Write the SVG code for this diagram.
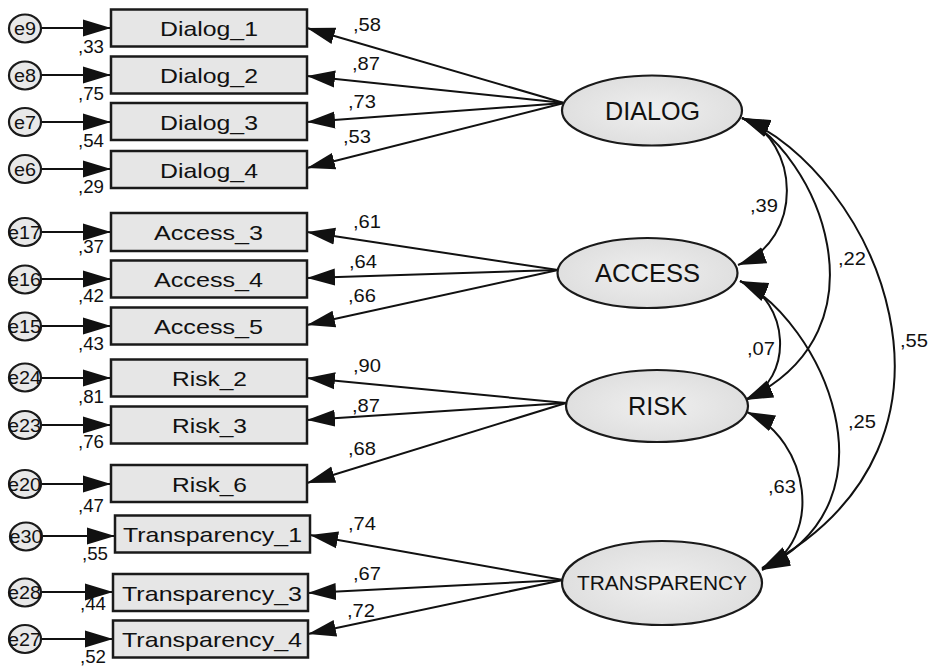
<svg xmlns="http://www.w3.org/2000/svg" width="929" height="669" viewBox="0 0 929 669">
<style>
text{font-family:"Liberation Sans",Arial,sans-serif;fill:#111;}
.box{fill:#e6e6e6;stroke:#1a1a1a;stroke-width:2.5;}
.err{fill:#e8e8e8;stroke:#1a1a1a;stroke-width:2.2;}
.lat{fill:url(#lg);stroke:#1a1a1a;stroke-width:2.2;}
.lbl{font-size:21px;}
.en{font-size:18px;}
.num{font-size:19px;}
.ln{font-size:25px;}
.c line,.c path{stroke:#111;stroke-width:2;fill:none;}
</style>
<defs>
<radialGradient id="lg" cx="0.5" cy="0.5" r="0.6">
<stop offset="0" stop-color="#efefef"/>
<stop offset="1" stop-color="#dcdcdc"/>
</radialGradient>
<marker id="ah" viewBox="0 0 28 18" markerUnits="userSpaceOnUse" markerWidth="28" markerHeight="18" refX="28" refY="9" orient="auto-start-reverse">
<path d="M0,0.5 L28,9 L0,17.5 z" fill="#111"/>
</marker>
</defs>
<rect width="929" height="669" fill="#fff"/>

<g id="connectors" class="c">
<line x1="41" y1="28" x2="111" y2="28" marker-end="url(#ah)"/>
<line x1="41" y1="75" x2="111" y2="75" marker-end="url(#ah)"/>
<line x1="41" y1="122" x2="111" y2="122" marker-end="url(#ah)"/>
<line x1="41" y1="169" x2="111" y2="169" marker-end="url(#ah)"/>
<line x1="41" y1="232" x2="111" y2="232" marker-end="url(#ah)"/>
<line x1="41" y1="279" x2="111" y2="279" marker-end="url(#ah)"/>
<line x1="41" y1="326" x2="111" y2="326" marker-end="url(#ah)"/>
<line x1="41" y1="378" x2="111" y2="378" marker-end="url(#ah)"/>
<line x1="41" y1="425" x2="111" y2="425" marker-end="url(#ah)"/>
<line x1="41" y1="484" x2="111" y2="484" marker-end="url(#ah)"/>
<line x1="42" y1="536" x2="115" y2="536" marker-end="url(#ah)"/>
<line x1="41" y1="592" x2="113" y2="592" marker-end="url(#ah)"/>
<line x1="41" y1="639" x2="113" y2="639" marker-end="url(#ah)"/>
<line x1="564" y1="103" x2="307" y2="28" marker-end="url(#ah)"/>
<line x1="564" y1="103" x2="307" y2="76" marker-end="url(#ah)"/>
<line x1="564" y1="103" x2="307" y2="122" marker-end="url(#ah)"/>
<line x1="564" y1="103" x2="307" y2="168" marker-end="url(#ah)"/>
<line x1="558" y1="270" x2="307" y2="232" marker-end="url(#ah)"/>
<line x1="558" y1="270" x2="307" y2="278" marker-end="url(#ah)"/>
<line x1="558" y1="270" x2="307" y2="325" marker-end="url(#ah)"/>
<line x1="566" y1="403" x2="307" y2="378" marker-end="url(#ah)"/>
<line x1="566" y1="403" x2="307" y2="420" marker-end="url(#ah)"/>
<line x1="566" y1="403" x2="307" y2="483" marker-end="url(#ah)"/>
<line x1="563" y1="580" x2="310" y2="535" marker-end="url(#ah)"/>
<line x1="563" y1="580" x2="308" y2="593" marker-end="url(#ah)"/>
<line x1="563" y1="580" x2="308" y2="634" marker-end="url(#ah)"/>
<path d="M742,118 C800,140 805,240 738,265" marker-start="url(#ah)" marker-end="url(#ah)"/>
<path d="M742,118 C815,150 895,330 745,400" marker-start="url(#ah)" marker-end="url(#ah)"/>
<path d="M742,118 C870,170 1000,440 762,568" marker-start="url(#ah)" marker-end="url(#ah)"/>
<path d="M740,281 C790,300 795,380 745,400" marker-start="url(#ah)" marker-end="url(#ah)"/>
<path d="M740,281 C820,320 905,500 762,569" marker-start="url(#ah)" marker-end="url(#ah)"/>
<path d="M747,412 C810,440 825,540 762,570" marker-start="url(#ah)" marker-end="url(#ah)"/>
</g>

<g id="labels-connectors">
<text class="num" x="353" y="31" textLength="28" lengthAdjust="spacingAndGlyphs">,58</text>
<text class="num" x="352" y="70" textLength="28" lengthAdjust="spacingAndGlyphs">,87</text>
<text class="num" x="348" y="108" textLength="28" lengthAdjust="spacingAndGlyphs">,73</text>
<text class="num" x="343" y="143" textLength="28" lengthAdjust="spacingAndGlyphs">,53</text>
<text class="num" x="353" y="228" textLength="28" lengthAdjust="spacingAndGlyphs">,61</text>
<text class="num" x="349" y="268" textLength="28" lengthAdjust="spacingAndGlyphs">,64</text>
<text class="num" x="348" y="302" textLength="28" lengthAdjust="spacingAndGlyphs">,66</text>
<text class="num" x="353" y="372" textLength="28" lengthAdjust="spacingAndGlyphs">,90</text>
<text class="num" x="352" y="412" textLength="28" lengthAdjust="spacingAndGlyphs">,87</text>
<text class="num" x="348" y="455" textLength="28" lengthAdjust="spacingAndGlyphs">,68</text>
<text class="num" x="348" y="530" textLength="28" lengthAdjust="spacingAndGlyphs">,74</text>
<text class="num" x="353" y="580" textLength="28" lengthAdjust="spacingAndGlyphs">,67</text>
<text class="num" x="347" y="617" textLength="28" lengthAdjust="spacingAndGlyphs">,72</text>
<text class="num" x="750" y="212" textLength="28" lengthAdjust="spacingAndGlyphs">,39</text>
<text class="num" x="838" y="265" textLength="28" lengthAdjust="spacingAndGlyphs">,22</text>
<text class="num" x="747" y="355" textLength="28" lengthAdjust="spacingAndGlyphs">,07</text>
<text class="num" x="900" y="347" textLength="28" lengthAdjust="spacingAndGlyphs">,55</text>
<text class="num" x="848" y="428" textLength="28" lengthAdjust="spacingAndGlyphs">,25</text>
<text class="num" x="768" y="493" textLength="28" lengthAdjust="spacingAndGlyphs">,63</text>
</g>

<g id="e9"><ellipse class="err" cx="25" cy="28.5" rx="16" ry="14"/><text class="en" x="14" y="35" textLength="22" lengthAdjust="spacingAndGlyphs">e9</text></g>
<g id="e8"><ellipse class="err" cx="25" cy="75.5" rx="16" ry="14"/><text class="en" x="14" y="82" textLength="22" lengthAdjust="spacingAndGlyphs">e8</text></g>
<g id="e7"><ellipse class="err" cx="25" cy="122" rx="16" ry="14"/><text class="en" x="14" y="128.5" textLength="22" lengthAdjust="spacingAndGlyphs">e7</text></g>
<g id="e6"><ellipse class="err" cx="25" cy="169" rx="16" ry="14"/><text class="en" x="14" y="175.5" textLength="22" lengthAdjust="spacingAndGlyphs">e6</text></g>
<g id="e17"><ellipse class="err" cx="25" cy="232" rx="16" ry="14"/><text class="en" x="8" y="238.5" textLength="33" lengthAdjust="spacingAndGlyphs">e17</text></g>
<g id="e16"><ellipse class="err" cx="25" cy="279.5" rx="16" ry="14"/><text class="en" x="8" y="286" textLength="33" lengthAdjust="spacingAndGlyphs">e16</text></g>
<g id="e15"><ellipse class="err" cx="25" cy="326.5" rx="16" ry="14"/><text class="en" x="8" y="333" textLength="33" lengthAdjust="spacingAndGlyphs">e15</text></g>
<g id="e24"><ellipse class="err" cx="25" cy="377.5" rx="16" ry="14"/><text class="en" x="8" y="384" textLength="33" lengthAdjust="spacingAndGlyphs">e24</text></g>
<g id="e23"><ellipse class="err" cx="25" cy="425" rx="16" ry="14"/><text class="en" x="8" y="431.5" textLength="33" lengthAdjust="spacingAndGlyphs">e23</text></g>
<g id="e20"><ellipse class="err" cx="25" cy="484" rx="16" ry="14"/><text class="en" x="8" y="490.5" textLength="33" lengthAdjust="spacingAndGlyphs">e20</text></g>
<g id="e30"><ellipse class="err" cx="26" cy="536.5" rx="16" ry="14"/><text class="en" x="9.5" y="543" textLength="33" lengthAdjust="spacingAndGlyphs">e30</text></g>
<g id="e28"><ellipse class="err" cx="25" cy="592.5" rx="16" ry="14"/><text class="en" x="8" y="599" textLength="33" lengthAdjust="spacingAndGlyphs">e28</text></g>
<g id="e27"><ellipse class="err" cx="25" cy="639" rx="16" ry="14"/><text class="en" x="8" y="645.5" textLength="33" lengthAdjust="spacingAndGlyphs">e27</text></g>

<g id="error-values">
<text class="en" x="78" y="53" textLength="26" lengthAdjust="spacingAndGlyphs">,33</text>
<text class="en" x="78" y="100" textLength="26" lengthAdjust="spacingAndGlyphs">,75</text>
<text class="en" x="78" y="147" textLength="26" lengthAdjust="spacingAndGlyphs">,54</text>
<text class="en" x="78" y="193" textLength="26" lengthAdjust="spacingAndGlyphs">,29</text>
<text class="en" x="78" y="253" textLength="26" lengthAdjust="spacingAndGlyphs">,37</text>
<text class="en" x="78" y="302" textLength="26" lengthAdjust="spacingAndGlyphs">,42</text>
<text class="en" x="78" y="350" textLength="26" lengthAdjust="spacingAndGlyphs">,43</text>
<text class="en" x="78" y="403" textLength="26" lengthAdjust="spacingAndGlyphs">,81</text>
<text class="en" x="78" y="448" textLength="26" lengthAdjust="spacingAndGlyphs">,76</text>
<text class="en" x="78" y="512" textLength="26" lengthAdjust="spacingAndGlyphs">,47</text>
<text class="en" x="82" y="560" textLength="26" lengthAdjust="spacingAndGlyphs">,55</text>
<text class="en" x="80" y="610" textLength="26" lengthAdjust="spacingAndGlyphs">,44</text>
<text class="en" x="80" y="663" textLength="26" lengthAdjust="spacingAndGlyphs">,52</text>
</g>

<g id="Dialog_1"><rect class="box" x="111" y="9.5" width="196" height="37"/><text class="lbl" x="160" y="36" textLength="98" lengthAdjust="spacingAndGlyphs">Dialog_1</text></g>
<g id="Dialog_2"><rect class="box" x="111" y="56.5" width="196" height="37"/><text class="lbl" x="160" y="83" textLength="98" lengthAdjust="spacingAndGlyphs">Dialog_2</text></g>
<g id="Dialog_3"><rect class="box" x="111" y="103" width="196" height="37"/><text class="lbl" x="160" y="129.5" textLength="98" lengthAdjust="spacingAndGlyphs">Dialog_3</text></g>
<g id="Dialog_4"><rect class="box" x="111" y="151" width="196" height="37"/><text class="lbl" x="160" y="177.5" textLength="98" lengthAdjust="spacingAndGlyphs">Dialog_4</text></g>
<g id="Access_3"><rect class="box" x="111" y="213" width="196" height="38"/><text class="lbl" x="154" y="240" textLength="109" lengthAdjust="spacingAndGlyphs">Access_3</text></g>
<g id="Access_4"><rect class="box" x="111" y="260.5" width="196" height="37"/><text class="lbl" x="154" y="287" textLength="109" lengthAdjust="spacingAndGlyphs">Access_4</text></g>
<g id="Access_5"><rect class="box" x="111" y="307.5" width="196" height="37"/><text class="lbl" x="154" y="334" textLength="109" lengthAdjust="spacingAndGlyphs">Access_5</text></g>
<g id="Risk_2"><rect class="box" x="111" y="359.5" width="196" height="37"/><text class="lbl" x="172" y="386" textLength="75" lengthAdjust="spacingAndGlyphs">Risk_2</text></g>
<g id="Risk_3"><rect class="box" x="111" y="406.5" width="196" height="37"/><text class="lbl" x="172" y="433" textLength="75" lengthAdjust="spacingAndGlyphs">Risk_3</text></g>
<g id="Risk_6"><rect class="box" x="111" y="465" width="196" height="37"/><text class="lbl" x="172" y="491.5" textLength="75" lengthAdjust="spacingAndGlyphs">Risk_6</text></g>
<g id="Transparency_1"><rect class="box" x="115" y="515.5" width="195" height="37"/><text class="lbl" x="123" y="542" textLength="179" lengthAdjust="spacingAndGlyphs">Transparency_1</text></g>
<g id="Transparency_3"><rect class="box" x="113" y="574" width="195" height="37"/><text class="lbl" x="122" y="600.5" textLength="180" lengthAdjust="spacingAndGlyphs">Transparency_3</text></g>
<g id="Transparency_4"><rect class="box" x="113" y="620.5" width="195" height="37"/><text class="lbl" x="122" y="647" textLength="180" lengthAdjust="spacingAndGlyphs">Transparency_4</text></g>

<g id="DIALOG"><ellipse class="lat" cx="652" cy="110.5" rx="90" ry="35"/><text class="ln" x="605" y="120" textLength="95" lengthAdjust="spacingAndGlyphs">DIALOG</text></g>
<g id="ACCESS"><ellipse class="lat" cx="647.5" cy="273" rx="90" ry="35"/><text class="ln" x="595" y="282" textLength="105" lengthAdjust="spacingAndGlyphs">ACCESS</text></g>
<g id="RISK"><ellipse class="lat" cx="657" cy="406" rx="91" ry="36"/><text class="ln" x="628" y="415" textLength="59" lengthAdjust="spacingAndGlyphs">RISK</text></g>
<g id="TRANSPARENCY"><ellipse class="lat" cx="662" cy="583" rx="100" ry="42"/><text class="ln" style="font-size:21px" x="577" y="590" textLength="170" lengthAdjust="spacingAndGlyphs">TRANSPARENCY</text></g>
</svg>
